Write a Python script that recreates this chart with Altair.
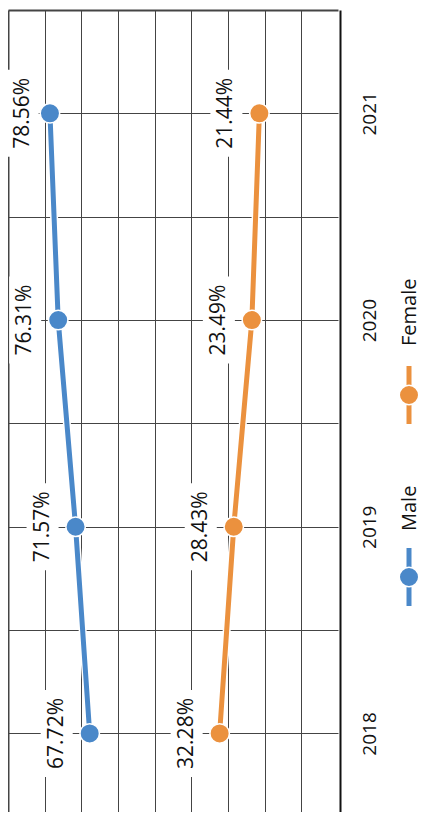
import altair as alt
import pandas as pd

years = [2018, 2019, 2020, 2021]
series = ["Male", "Female"]
male = [67.72, 71.57, 76.31, 78.56]
female = [32.28, 28.43, 23.49, 21.44]
colors = ["#4A88C9", "#EB913E"]
value_grid = [10, 20, 30, 40, 50, 60, 70, 80, 90]
year_grid = [2018, 2018.5, 2019, 2019.5, 2020, 2020.5, 2021, 2021.5]

rows = []
for s, vals in zip(series, [male, female]):
    for y, v in zip(years, vals):
        rows.append({"series": s, "year": y, "value": v})
df = pd.DataFrame(rows)

FONT = "Open Sans"
color_scale = alt.Scale(domain=series, range=colors)

x_enc = alt.X(
    "value:Q",
    scale=alt.Scale(domain=[0, 90], reverse=True, nice=False, zero=False),
    axis=alt.Axis(values=value_grid, labels=False, ticks=False, domain=False,
                  grid=True, gridColor="#444",
                  gridWidth={"condition": {"test": "datum.value === 90", "value": 2}, "value": 1},
                  title=None),
)
y_enc = alt.Y(
    "year:Q",
    scale=alt.Scale(domain=[2017.62, 2021.5], nice=False, zero=False),
    axis=alt.Axis(orient="right", values=year_grid,
                  labelExpr="datum.value % 1 === 0 ? '' + datum.value : ''",
                  grid=True, gridColor="#444",
                  gridWidth={"condition": {"test": "datum.value === 2021.5", "value": 2}, "value": 1},
                  ticks=False, domain=True, domainColor="#111", domainWidth=2, offset=2,
                  labelAngle=270, labelAlign="center", labelBaseline="middle",
                  labelPadding=29, labelFont=FONT, labelFontSize=19, labelColor="#111",
                  labelOverlap=False, labelFlush=False, title=None),
)
color_enc = alt.Color("series:N", scale=color_scale, legend=None)

base = alt.Chart(df).encode(x=x_enc, y=y_enc)

labeled = base.transform_calculate(
    label_v="min(datum.value + 9, 86)",
    label="format(datum.value, '.2f') + '%'",
)

box_shape = "M-0.368,-1L0.368,-1L0.368,1L-0.368,1Z"
boxes = labeled.mark_point(shape=box_shape, filled=True, color="white", opacity=1,
                           size=7569, strokeWidth=0).encode(x=alt.X("label_v:Q"))
casing = base.mark_line(color="white", strokeWidth=8).encode(detail="series:N")
lines = base.mark_line(strokeWidth=5).encode(color=color_enc)
points = base.mark_point(filled=True, size=380, opacity=1, stroke="white",
                         strokeWidth=1.5).encode(color=color_enc)
texts = labeled.mark_text(font=FONT, fontSize=21, angle=270, align="center",
                          baseline="middle", color="#111").encode(
    x=alt.X("label_v:Q"), text="label:N")

# manual rotated legend (x, symbol centre y, label start y) in plot pixels
legend_layers = []
legend_pos = {"Male": (401, 567, 521), "Female": (401, 385, 336)}
for s in series:
    cx, cy, ly = legend_pos[s]
    ldata = alt.Data(values=[{"series": s}])
    legend_layers.append(
        alt.Chart(ldata).mark_rule(strokeWidth=5).encode(
            x=alt.value(cx), y=alt.value(cy - 29), y2=alt.value(cy + 29), color=color_enc))
    legend_layers.append(
        alt.Chart(ldata).mark_point(filled=True, size=380, opacity=1, stroke="white",
                                    strokeWidth=1.5).encode(
            x=alt.value(cx), y=alt.value(cy), color=color_enc))
    legend_layers.append(
        alt.Chart(ldata).mark_text(font=FONT, fontSize=20, angle=270, align="left",
                                   baseline="alphabetic", color="#111").encode(
            x=alt.value(cx + 7), y=alt.value(ly), text="series:N"))

chart = alt.layer(boxes, casing, lines, points, texts, *legend_layers).properties(
    width=330, height=802,
    autosize=alt.AutoSizeParams(type="none"),
    padding={"left": 0, "top": 2, "right": 83, "bottom": 0},
).configure_view(stroke=None)

chart.save("out.html", embed_options={"renderer": "svg", "actions": False})
